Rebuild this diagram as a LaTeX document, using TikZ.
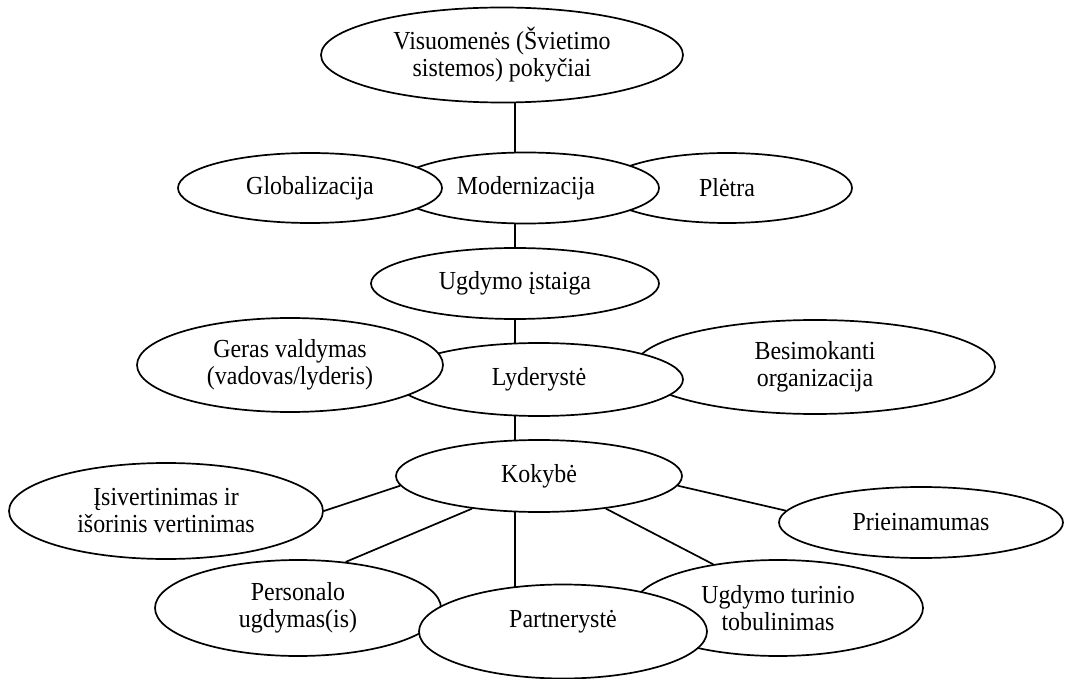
\documentclass[tikz,border=0pt]{standalone}
\usepackage{fontspec}
\setmainfont[FakeStretch=0.92]{Liberation Serif}
\usetikzlibrary{shapes.geometric,backgrounds}
\begin{document}
\begin{tikzpicture}[x=1pt,y=-1pt,
  ell/.style={ellipse,draw=black,fill=white,line width=1.7pt,inner sep=0pt,align=center,font=\fontsize{26}{27}\selectfont},
  txt/.style={inner sep=0pt,align=center,font=\fontsize{26}{27}\selectfont},
  conn/.style={draw=black,line width=1.7pt}]
\useasboundingbox (0,0) rectangle (1066,679);
% top
\node[ell,minimum width=362pt,minimum height=95pt] (vis) at (502,55) {Visuomenės (Švietimo\\sistemos) pokyčiai};
% row 2
\node[ell,minimum width=250pt,minimum height=70pt] (ple) at (727,188) {Plėtra};
\node[ell,minimum width=266pt,minimum height=71pt] (mod) at (526,188) {Modernizacija};
\node[ell,minimum width=264pt,minimum height=70pt] (glob) at (310,188) {Globalizacija};
% row 3
\node[ell,minimum width=288pt,minimum height=71pt] (ugd) at (515,283.5) {Ugdymo įstaiga};
% row 4
\node[ell,minimum width=360pt,minimum height=94pt] (bes) at (815,367) {Besimokanti\\organizacija};
\node[ell,minimum width=288pt,minimum height=73pt] (lyd) at (539,379.5) {Lyderystė};
\node[ell,minimum width=306pt,minimum height=94pt] (ger) at (290,365) {Geras valdymas\\(vadovas/lyderis)};
% row 5
\node[ell,minimum width=286pt,minimum height=72pt] (kok) at (539,476) {Kokybė};
\node[ell,minimum width=314pt,minimum height=96pt] (isv) at (166,511) {Įsivertinimas ir\\išorinis vertinimas};
\node[ell,minimum width=284pt,minimum height=71pt] (pri) at (921,522.5) {Prieinamumas};
% row 6
\node[ell,minimum width=286pt,minimum height=96pt] (per) at (298,608) {Personalo\\ugdymas(is)};
\node[ell,minimum width=290pt,minimum height=96pt] (ugt) at (778,608) {Ugdymo turinio\\tobulinimas};
\node[ell,minimum width=288pt,minimum height=94pt] (par) at (563,631.5) {};
\node[txt] (partxt) at ([yshift=10pt]par.center) {Partnerystė};
% connectors
\begin{pgfonlayer}{background}
\draw[conn] (ugd |- vis) -- (ugd |- mod);
\draw[conn] (ugd |- mod) -- (ugd);
\draw[conn] (ugd) -- (ugd |- lyd);
\draw[conn] (ugd |- lyd) -- (ugd |- kok);
\draw[conn] (ugd |- kok) -- (ugd |- par);
\end{pgfonlayer}
\draw[conn] (kok.184.7) -- (isv.east);
\draw[conn] (kok.-4.7) -- (pri.175.8);
\draw[conn] (kok.206.9) -- (per.44.4);
\draw[conn] (kok.-26.9) -- (ugt.146);
\end{tikzpicture}
\end{document}
